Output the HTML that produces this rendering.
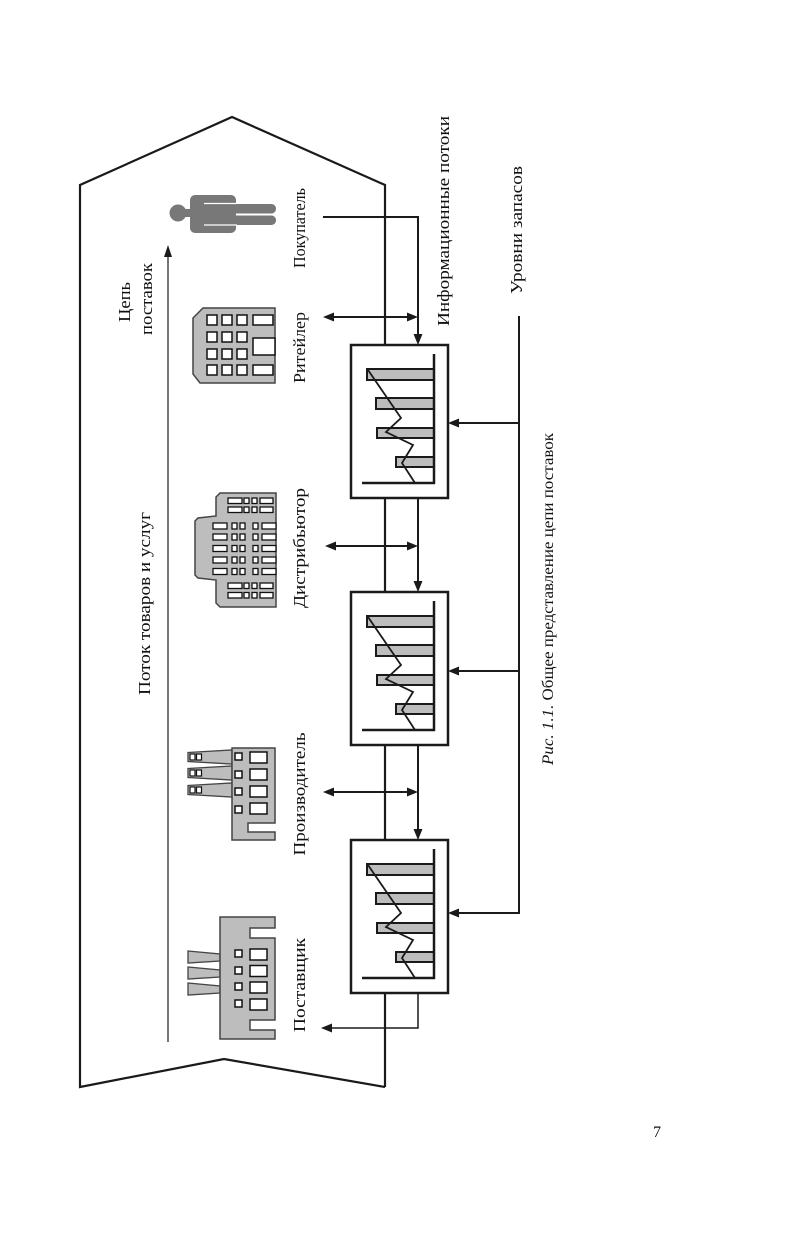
<!DOCTYPE html>
<html><head><meta charset="utf-8">
<style>
html,body{margin:0;padding:0;background:#fff;}
svg{display:block;}
text{font-family:"Liberation Serif","Noto Serif CJK SC",serif;fill:#111;}
</style></head>
<body>
<svg width="786" height="1241" viewBox="0 0 786 1241" xmlns="http://www.w3.org/2000/svg">
<defs>
<g id="chart">
  <rect x="0" y="0" width="97" height="153" fill="#fff" stroke="#1a1a1a" stroke-width="2.5"/>
  <rect x="16" y="24" width="67" height="11" fill="#bdbdbd" stroke="#1a1a1a" stroke-width="2"/>
  <rect x="25" y="53" width="58" height="11" fill="#bdbdbd" stroke="#1a1a1a" stroke-width="2"/>
  <rect x="26" y="83" width="57" height="10" fill="#bdbdbd" stroke="#1a1a1a" stroke-width="2"/>
  <rect x="45" y="112" width="38" height="10" fill="#bdbdbd" stroke="#1a1a1a" stroke-width="2"/>
  <line x1="83" y1="9" x2="83" y2="139" stroke="#1a1a1a" stroke-width="2.5"/>
  <line x1="11" y1="138" x2="84" y2="138" stroke="#1a1a1a" stroke-width="2.5"/>
  <polyline points="17,25 50,73 35,87 62,100 51,118 64,138" fill="none" stroke="#1a1a1a" stroke-width="1.8"/>
</g>
</defs>

<!-- outer arrow pentagon -->
<path d="M385,1087 L224,1059 L80,1087 L80,185 L232,117 L385,185 L385,1087" fill="none" stroke="#1a1a1a" stroke-width="2.2" stroke-linejoin="miter"/>

<!-- boxes -->
<use href="#chart" x="351" y="345"/>
<use href="#chart" x="351" y="592"/>
<use href="#chart" x="351" y="840"/>

<g stroke="#1a1a1a" stroke-width="2" fill="none">
  <polyline points="323,217 418,217 418,336"/>
  <line x1="331" y1="317" x2="410" y2="317"/>
  <line x1="418" y1="498" x2="418" y2="583"/>
  <line x1="333" y1="546" x2="410" y2="546"/>
  <line x1="418" y1="745" x2="418" y2="831"/>
  <line x1="331" y1="792" x2="410" y2="792"/>
  <polyline points="418,993 418,1028 330,1028" stroke-width="1.5"/>
  <line x1="519" y1="316" x2="519" y2="914"/>
  <line x1="519" y1="423" x2="457" y2="423"/>
  <line x1="519" y1="671" x2="457" y2="671"/>
  <line x1="519" y1="913" x2="457" y2="913"/>
</g>
<line x1="168" y1="1042" x2="168" y2="254" stroke="#1a1a1a" stroke-width="1.2"/>

<g fill="#1a1a1a">
  <polygon points="418,345 413.5,334 422.5,334"/>
  <polygon points="323,317 334,312.5 334,321.5"/>
  <polygon points="418,317 407,312.5 407,321.5"/>
  <polygon points="418,592 413.5,581 422.5,581"/>
  <polygon points="325,546 336,541.5 336,550.5"/>
  <polygon points="418,546 407,541.5 407,550.5"/>
  <polygon points="418,840 413.5,829 422.5,829"/>
  <polygon points="323,792 334,787.5 334,796.5"/>
  <polygon points="418,792 407,787.5 407,796.5"/>
  <polygon points="321,1028 332,1023.5 332,1032.5"/>
  <polygon points="448,423 459,418.5 459,427.5"/>
  <polygon points="448,671 459,666.5 459,675.5"/>
  <polygon points="448,913 459,908.5 459,917.5"/>
  <polygon points="168,245 164,257 172,257"/>
</g>

<!-- Buyer (person) -->
<g fill="#787878">
  <circle cx="178" cy="213" r="8.5"/>
  <rect x="185" y="209" width="7" height="8"/>
  <rect x="190" y="195" width="46" height="38" rx="5"/>
  <rect x="228" y="204" width="48" height="9.5" rx="4.5"/>
  <rect x="228" y="215.5" width="48" height="9.5" rx="4.5"/>
</g>
<g stroke="#fff" stroke-width="1.3">
  <line x1="204" y1="203.5" x2="237" y2="203.5"/>
  <line x1="204" y1="225" x2="237" y2="225"/>
</g>

<!-- Retailer -->
<polygon points="203,308 275,308 275,383 200,383 193,374 193,318" fill="#bdbdbd" stroke="#444" stroke-width="1.5"/>
<g fill="#fff" stroke="#111" stroke-width="1.5">
  <rect x="207" y="315" width="10" height="10"/><rect x="222" y="315" width="10" height="10"/><rect x="237" y="315" width="10" height="10"/><rect x="253" y="315" width="20" height="10"/>
  <rect x="207" y="332" width="10" height="10"/><rect x="222" y="332" width="10" height="10"/><rect x="237" y="332" width="10" height="10"/>
  <rect x="207" y="349" width="10" height="10"/><rect x="222" y="349" width="10" height="10"/><rect x="237" y="349" width="10" height="10"/>
  <rect x="253" y="338" width="22" height="17"/>
  <rect x="207" y="365" width="10" height="10"/><rect x="222" y="365" width="10" height="10"/><rect x="237" y="365" width="10" height="10"/><rect x="253" y="365" width="20" height="10"/>
</g>

<!-- Distributor -->
<polygon points="220,493 276,493 276,607 220,607 216,603 216,580 198,578 195,575 195,521 198,518 216,516 216,497" fill="#bdbdbd" stroke="#444" stroke-width="1.5"/>
<g fill="#fff" stroke="#111" stroke-width="1.3">
  <rect x="228" y="498" width="14" height="5.5"/><rect x="244" y="498" width="5" height="5.5"/><rect x="252" y="498" width="5" height="5.5"/><rect x="260" y="498" width="13" height="5.5"/>
  <rect x="228" y="507" width="14" height="5.5"/><rect x="244" y="507" width="5" height="5.5"/><rect x="252" y="507" width="5" height="5.5"/><rect x="260" y="507" width="13" height="5.5"/>
  <rect x="213" y="523" width="14" height="6"/><rect x="232" y="523" width="5" height="6"/><rect x="240" y="523" width="5" height="6"/><rect x="253" y="523" width="5" height="6"/><rect x="262" y="523" width="14" height="6"/>
  <rect x="213" y="534" width="14" height="6"/><rect x="232" y="534" width="5" height="6"/><rect x="240" y="534" width="5" height="6"/><rect x="253" y="534" width="5" height="6"/><rect x="262" y="534" width="14" height="6"/>
  <rect x="213" y="545.5" width="14" height="6"/><rect x="232" y="545.5" width="5" height="6"/><rect x="240" y="545.5" width="5" height="6"/><rect x="253" y="545.5" width="5" height="6"/><rect x="262" y="545.5" width="14" height="6"/>
  <rect x="213" y="557" width="14" height="6"/><rect x="232" y="557" width="5" height="6"/><rect x="240" y="557" width="5" height="6"/><rect x="253" y="557" width="5" height="6"/><rect x="262" y="557" width="14" height="6"/>
  <rect x="213" y="568.5" width="14" height="6"/><rect x="232" y="568.5" width="5" height="6"/><rect x="240" y="568.5" width="5" height="6"/><rect x="253" y="568.5" width="5" height="6"/><rect x="262" y="568.5" width="14" height="6"/>
  <rect x="228" y="583" width="14" height="5.5"/><rect x="244" y="583" width="5" height="5.5"/><rect x="252" y="583" width="5" height="5.5"/><rect x="260" y="583" width="13" height="5.5"/>
  <rect x="228" y="592.5" width="14" height="5.5"/><rect x="244" y="592.5" width="5" height="5.5"/><rect x="252" y="592.5" width="5" height="5.5"/><rect x="260" y="592.5" width="13" height="5.5"/>
</g>

<!-- Producer -->
<g fill="#bdbdbd" stroke="#444" stroke-width="1.3">
  <polygon points="188,752.5 232,750 232,764 188,761.5"/>
  <polygon points="188,768.5 232,766 232,780 188,777.5"/>
  <polygon points="188,785.5 232,783 232,797 188,794.5"/>
  <polygon points="232,748 275,748 275,823 248,823 248,832 275,832 275,840 232,840" stroke-width="1.5"/>
</g>
<g fill="#fff" stroke="#111" stroke-width="1.2">
  <rect x="190" y="754" width="5" height="6"/><rect x="196.5" y="754" width="5" height="6"/>
  <rect x="190" y="770" width="5" height="6"/><rect x="196.5" y="770" width="5" height="6"/>
  <rect x="190" y="787" width="5" height="6"/><rect x="196.5" y="787" width="5" height="6"/>
</g>
<g fill="#fff" stroke="#111" stroke-width="1.5">
  <rect x="235" y="753" width="7" height="7"/><rect x="250" y="752" width="17" height="11"/>
  <rect x="235" y="771" width="7" height="7"/><rect x="250" y="769" width="17" height="11"/>
  <rect x="235" y="788" width="7" height="7"/><rect x="250" y="786" width="17" height="11"/>
  <rect x="235" y="806" width="7" height="7"/><rect x="250" y="803" width="17" height="11"/>
</g>

<!-- Supplier -->
<g fill="#bdbdbd" stroke="#444" stroke-width="1.3">
  <polygon points="188,951 220,954 220,961 188,963"/>
  <polygon points="188,967 220,970 220,977 188,979"/>
  <polygon points="188,983 220,986 220,993 188,995"/>
  <polygon points="220,917 275,917 275,928 250,928 250,938 275,938 275,1020 250,1020 250,1030 275,1030 275,1039 220,1039" stroke-width="1.5"/>
</g>
<g fill="#fff" stroke="#111" stroke-width="1.5">
  <rect x="235" y="950" width="7" height="7"/><rect x="250" y="949" width="17" height="11"/>
  <rect x="235" y="967" width="7" height="7"/><rect x="250" y="965.5" width="17" height="11"/>
  <rect x="235" y="983" width="7" height="7"/><rect x="250" y="982" width="17" height="11"/>
  <rect x="235" y="1000" width="7" height="7"/><rect x="250" y="999" width="17" height="11"/>
</g>

<!-- Labels (rotated) -->
<g font-size="17" text-anchor="middle">
  <text transform="translate(130,302) rotate(-90)" textLength="40" lengthAdjust="spacingAndGlyphs">Цепь</text>
  <text transform="translate(152,299) rotate(-90)" textLength="72" lengthAdjust="spacingAndGlyphs">поставок</text>
  <text transform="translate(150,603.5) rotate(-90)" textLength="183" lengthAdjust="spacingAndGlyphs">Поток товаров и услуг</text>
  <text transform="translate(305,228) rotate(-90)" textLength="80" lengthAdjust="spacingAndGlyphs">Покупатель</text>
  <text transform="translate(305,347.5) rotate(-90)" textLength="71" lengthAdjust="spacingAndGlyphs">Ритейлер</text>
  <text transform="translate(305,548) rotate(-90)" textLength="120" lengthAdjust="spacingAndGlyphs">Дистрибьютор</text>
  <text transform="translate(305,794) rotate(-90)" textLength="123" lengthAdjust="spacingAndGlyphs">Производитель</text>
  <text transform="translate(305,985) rotate(-90)" textLength="94" lengthAdjust="spacingAndGlyphs">Поставщик</text>
  <text transform="translate(449,221) rotate(-90)" textLength="210" lengthAdjust="spacingAndGlyphs">Информационные потоки</text>
  <text transform="translate(522,230) rotate(-90)" textLength="128" lengthAdjust="spacingAndGlyphs">Уровни запасов</text>
</g>
<text transform="translate(553,599) rotate(-90)" font-size="16" text-anchor="middle" textLength="332" lengthAdjust="spacingAndGlyphs"><tspan font-style="italic">Рис. 1.1.</tspan> Общее представление цепи поставок</text>

<text x="657" y="1137" font-size="16" text-anchor="middle">7</text>
</svg>
</body></html>
